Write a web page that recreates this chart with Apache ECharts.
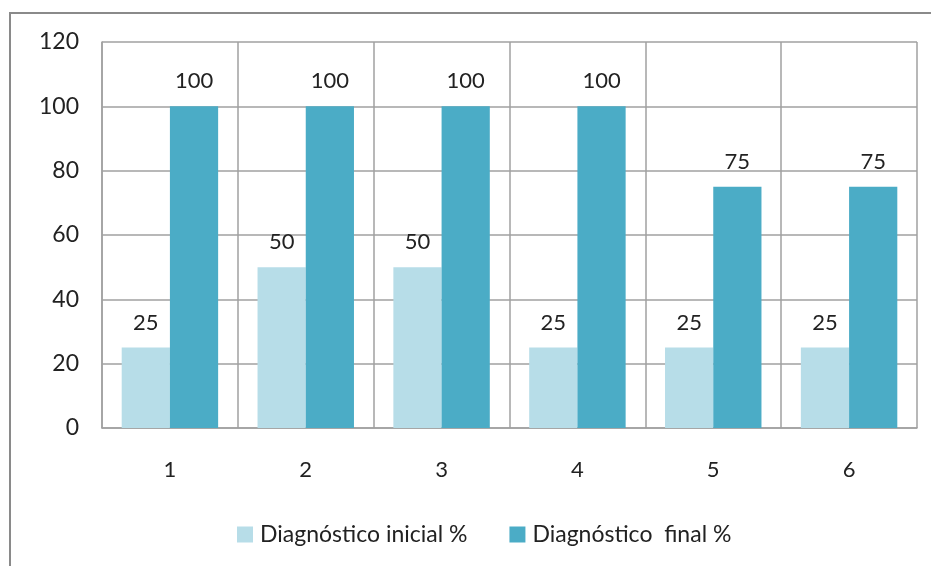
<!DOCTYPE html>
<html>
<head>
<meta charset="utf-8">
<script src="https://cdn.jsdelivr.net/npm/echarts@6/dist/echarts.min.js"></script>
<style>
html,body{margin:0;padding:0;background:#fff;}
#chart{width:931px;height:566px;}
</style>
</head>
<body>
<div id="chart"></div>
<script>
// Categories and values
const categories = ['1', '2', '3', '4', '5', '6'];
const inicial = [25, 50, 50, 25, 25, 25];
const final = [100, 100, 100, 100, 75, 75];
const seriesNames = ['Diagnóstico inicial %', 'Diagnóstico  final %'];
const yTicks = { min: 0, max: 120, interval: 20 };

const FONT = 'Lato, "Open Sans", sans-serif';
const chart = echarts.init(document.getElementById('chart'));

const labelStyle = {
  show: true,
  position: 'top',
  distance: 14,
  fontFamily: FONT,
  fontSize: 22,
  color: '#222'
};

chart.setOption({
  backgroundColor: '#fff',
  animation: false,
  graphic: [{
    type: 'rect',
    shape: { x: 10, y: 13, width: 1000, height: 700 },
    style: { fill: 'none', stroke: '#8a8a8a', lineWidth: 2 },
    silent: true
  }],
  grid: { left: 102, right: 14, top: 42, bottom: 138 },
  legend: {
    bottom: 15,
    left: 232,
    itemWidth: 16,
    itemHeight: 16,
    itemGap: 42,
    icon: 'rect',
    textStyle: { fontFamily: FONT, fontSize: 23, color: '#222', padding: [0, 0, 0, 2] },
    data: seriesNames
  },
  xAxis: {
    type: 'category',
    data: categories,
    axisLine: { show: true, lineStyle: { color: '#a0a0a0', width: 1.5 } },
    axisTick: { show: false },
    splitLine: { show: true, lineStyle: { color: '#a0a0a0', width: 1.5 } },
    axisLabel: { margin: 31, fontFamily: FONT, fontSize: 22, color: '#222' }
  },
  yAxis: {
    type: 'value',
    min: yTicks.min,
    max: yTicks.max,
    interval: yTicks.interval,
    axisLine: { show: true, lineStyle: { color: '#a0a0a0', width: 1.5 } },
    axisTick: { show: false },
    splitLine: { show: true, lineStyle: { color: '#a0a0a0', width: 1.5 } },
    axisLabel: { margin: 23, fontFamily: FONT, fontSize: 23, color: '#222' }
  },
  series: [
    {
      name: seriesNames[0],
      type: 'bar',
      data: inicial,
      barGap: '0%',
      barCategoryGap: '29%',
      itemStyle: { color: '#b7dde8' },
      label: labelStyle
    },
    {
      name: seriesNames[1],
      type: 'bar',
      data: final,
      barGap: '0%',
      barCategoryGap: '29%',
      itemStyle: { color: '#4bacc6' },
      label: labelStyle
    }
  ]
});
</script>
</body>
</html>
